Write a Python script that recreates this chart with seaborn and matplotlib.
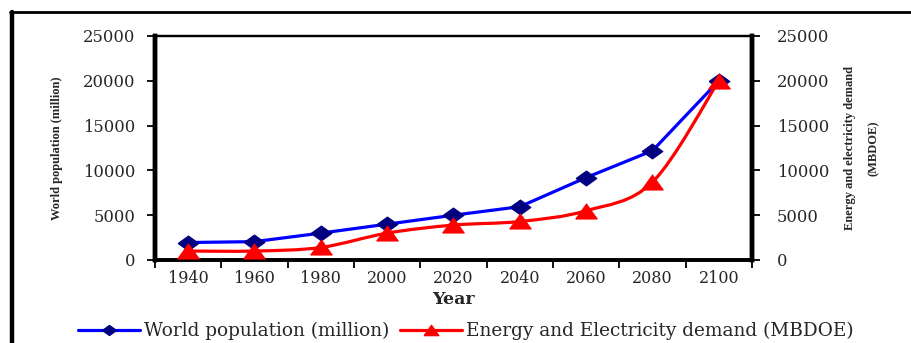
import numpy as np
import pandas as pd
import matplotlib
matplotlib.use("Agg")
import matplotlib.pyplot as plt
from matplotlib.path import Path
from matplotlib.patches import PathPatch
from matplotlib.lines import Line2D
import seaborn as sns

# Data
years = ["1940", "1960", "1980", "2000", "2020", "2040", "2060", "2080", "2100"]
population = [1950, 2050, 3000, 4000, 5000, 5950, 9200, 12200, 20000]
energy = [1000, 1000, 1400, 3000, 3900, 4300, 5500, 8700, 20000]
y_ticks = [0, 5000, 10000, 15000, 20000, 25000]

pop_label = "World population (million)"
energy_label = "Energy and Electricity demand (MBDOE)"

sns.set_style("white")
plt.rcParams["font.family"] = ["DejaVu Serif"]

BLUE = "#0000FF"
NAVY = "#000080"
RED = "#FF0000"

diamond = [(-1, 0), (0, 0.72), (1, 0), (0, -0.72), (-1, 0)]
triangle = [(-1, -0.7), (1, -0.7), (0, 0.7), (-1, -0.7)]

df = pd.DataFrame({"pos": np.arange(len(years)), "year": years,
                   "population": population, "energy": energy})

fig = plt.figure(figsize=(9.12, 3.43), dpi=100)
ax = fig.add_axes([155 / 912, 83 / 343, 597 / 912, 224 / 343])
ax2 = ax.twinx()

# Population: straight segments with navy diamonds
sns.lineplot(data=df, x="pos", y="population", ax=ax, color=BLUE, lw=2.3,
             marker=diamond, markersize=15, markerfacecolor=NAVY,
             markeredgecolor=NAVY, legend=False, zorder=3)

# Energy demand: smoothed curve through the points (Catmull-Rom as cubic Beziers)
xs = df["pos"].to_numpy(dtype=float)
ys = df["energy"].to_numpy(dtype=float)
pts = np.column_stack([xs, ys])
verts = [pts[0]]
codes = [Path.MOVETO]
n = len(pts)
for i in range(n - 1):
    p0 = pts[i - 1] if i > 0 else pts[i]
    p1 = pts[i]
    p2 = pts[i + 1]
    p3 = pts[i + 2] if i + 2 < n else pts[i + 1]
    c1 = p1 + (p2 - p0) / 6.0
    c2 = p2 - (p3 - p1) / 6.0
    verts += [c1, c2, p2]
    codes += [Path.CURVE4] * 3
ax2.add_patch(PathPatch(Path(verts, codes), facecolor="none", edgecolor=RED,
                        lw=2.3, zorder=3, capstyle="round", joinstyle="round"))
sns.lineplot(data=df, x="pos", y="energy", ax=ax2, color=RED, lw=0,
             marker=triangle, markersize=15.5, markerfacecolor=RED,
             markeredgecolor=RED, legend=False, zorder=4)

for a in (ax, ax2):
    a.set_xlim(-0.5, len(years) - 0.5)
    a.set_ylim(0, 25000)
    a.set_yticks(y_ticks)
    a.set_yticklabels([str(v) for v in y_ticks])
    a.set_xlabel("")

# Category axis: tick marks between categories, labels centred on them
ax.set_xticks(np.arange(-0.5, len(years), 1.0))
ax.set_xticklabels([])
ax.set_xticks(np.arange(len(years)), minor=True)
ax.set_xticklabels(years, minor=True)
ax.tick_params(axis="x", which="major", direction="out", length=6, width=1.3,
               color="black", bottom=True)
ax.tick_params(axis="x", which="minor", length=0, pad=7, labelsize=11.5)
ax.tick_params(axis="y", direction="out", length=6, width=1.3, color="black",
               left=True, pad=8, labelsize=11.8)
ax2.tick_params(axis="y", direction="out", length=6, width=1.3, color="black",
                right=True, pad=12, labelsize=11.8)

for a in (ax, ax2):
    for side, w in (("left", 3.2), ("bottom", 2.6), ("right", 3.2), ("top", 1.6)):
        a.spines[side].set_visible(True)
        a.spines[side].set_color("black")
        a.spines[side].set_linewidth(w)

ax.set_ylabel(pop_label, family=["Liberation Serif"], fontweight="bold",
              fontsize=9)
ax.yaxis.set_label_coords(-0.164, 0.5)
ax.yaxis.label.set(ha="center", va="center", rotation_mode="default")

ax2.set_ylabel("Energy and electricity demand\n(MBDOE)",
               family=["Liberation Serif"], fontweight="bold", fontsize=9,
               linespacing=2.4)
ax2.yaxis.set_label_coords(1.184, 0.5)
ax2.yaxis.label.set(ha="center", va="center", rotation_mode="default",
                    rotation=90)

fig.text(453.5 / 912, 43 / 343, "Year", ha="center", va="center",
         fontweight="bold", fontsize=12.5)

handles = [
    Line2D([], [], color=BLUE, lw=2.3, marker=diamond, markersize=10,
           markerfacecolor=NAVY, markeredgecolor=NAVY),
    Line2D([], [], color=RED, lw=2.3, marker=triangle, markersize=10.5,
           markerfacecolor=RED, markeredgecolor=RED),
]
fig.legend(handles, [pop_label, energy_label], loc="center",
           bbox_to_anchor=(466 / 912, 12 / 343), ncol=2, frameon=False,
           fontsize=13.3, handlelength=3.35, handletextpad=0.2,
           columnspacing=0.6, borderaxespad=0, borderpad=0)

# Outer frame around the whole chart
fig.add_artist(Line2D([12 / 912, 12 / 912], [0, 1 - 12 / 343],
                      transform=fig.transFigure, color="black", lw=3.2))
fig.add_artist(Line2D([10.5 / 912, 1], [1 - 12 / 343, 1 - 12 / 343],
                      transform=fig.transFigure, color="black", lw=2.0))

fig.savefig("out.png", dpi=100, facecolor="white")
